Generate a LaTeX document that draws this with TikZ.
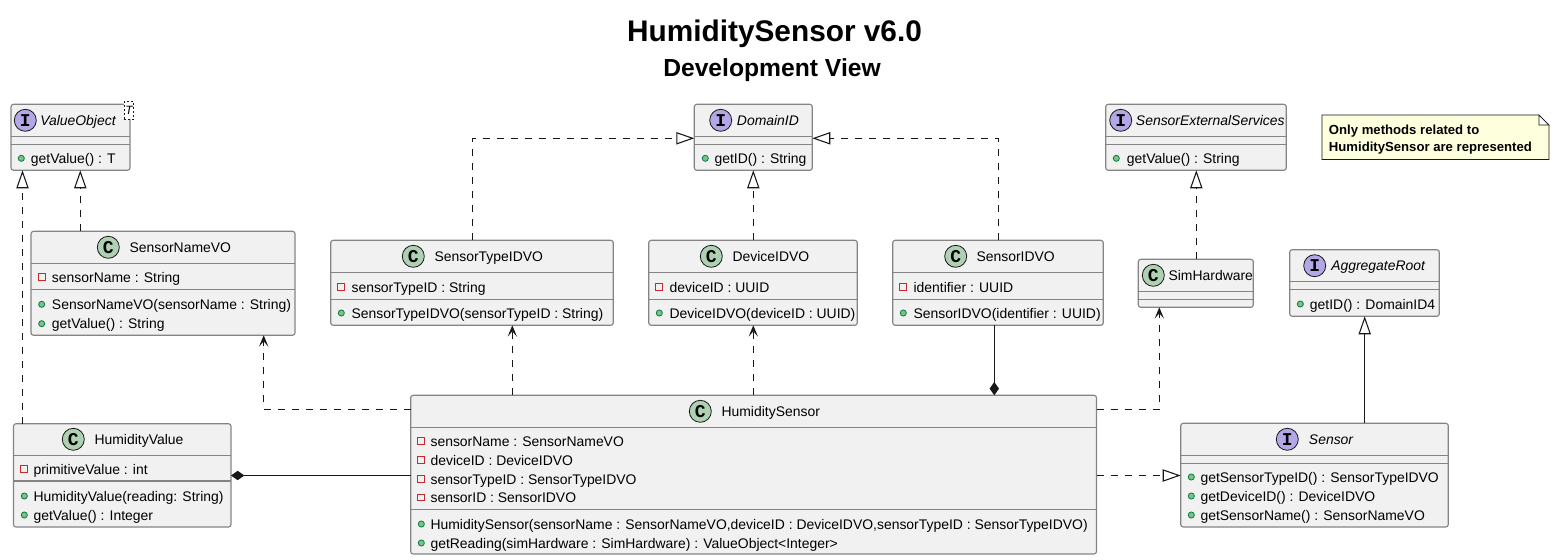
\documentclass[tikz,border=0pt]{standalone}
\usepackage{fontspec}
\setmainfont{Liberation Sans}
\newfontfamily\spotfont{Liberation Mono}
\usetikzlibrary{arrows.meta}
\definecolor{boxfill}{HTML}{F1F1F1}
\definecolor{boxline}{HTML}{848484}
\definecolor{cspot}{HTML}{ADD1B2}
\definecolor{ispot}{HTML}{B4A7E5}
\definecolor{notefill}{HTML}{FEFFDD}
\definecolor{privc}{HTML}{C82930}
\definecolor{pubc}{HTML}{038048}
\definecolor{pubf}{HTML}{84BE84}
\definecolor{ink}{HTML}{181818}
\newcounter{labelno}
\tikzset{
  x=0.75pt,y=-0.75pt,
  classbox/.style={draw=boxline,fill=boxfill,line width=0.85pt,rounded corners=1.9pt,inner sep=0pt,outer sep=0pt},
  sepline/.style={draw=boxline,line width=0.85pt},
  spot/.style={circle,draw=ink,line width=0.6pt,minimum size=16.5pt,inner sep=0pt,font=\spotfont\bfseries\fontsize{13.5}{13.5}\selectfont,text=black},
  title text/.style={anchor=base west,inner sep=0pt,text=black,font=\fontsize{10.45}{12}\selectfont},
  member/.style={anchor=base west,inner sep=0pt,text=black,font=\fontsize{10.45}{12}\selectfont},
  privicon/.style={draw=privc,fill=boxfill,line width=0.75pt,minimum size=5pt,inner sep=0pt},
  pubicon/.style={circle,draw=pubc,fill=pubf,line width=0.6pt,minimum size=4.6pt,inner sep=0pt},
  conn/.style={draw=ink,line width=0.8pt},
  dashline/.style={conn,dash pattern=on 5.25pt off 5.25pt},
  real/.style={dashline,-{Triangle[open,length=13.5pt,width=9.2pt,fill=white]}},
  gen/.style={conn,-{Triangle[open,length=13.5pt,width=9.2pt,fill=white]}},
  dep/.style={dashline,-{Stealth[length=8.5pt,width=7pt,inset=4pt]}},
  comp/.style={conn,-{Diamond[length=10pt,width=7pt,fill=ink]}},
}
% box: name, x1,y1,x2,y2, separator 1, separator 2
\newcommand{\umlbox}[7]{%
  \node[classbox,minimum width={(#4-#2)*0.75pt},minimum height={(#5-#3)*0.75pt}] (#1) at ({(#2+#4)/2},{(#3+#5)/2}) {};
  \draw[sepline] (#1.west |- 0,#6) -- (#1.east |- 0,#6);
  \draw[sepline] (#1.west |- 0,#7) -- (#1.east |- 0,#7);
}
% header: spot letter, fill, spot x, y, text x, text
\newcommand{\header}[6]{%
  \stepcounter{labelno}%
  \node[spot,fill=#2] (s\thelabelno) at (#3,#4) {#1};
  \node[title text] (h\thelabelno) at (#5,#4+5) {#6};
}
\newcommand{\privrow}[4]{%
  \stepcounter{labelno}%
  \node[privicon] (i\thelabelno) at (#1,#3) {};
  \node[member] (m\thelabelno) at (#2,#3+5) {#4};
}
\newcommand{\pubrow}[4]{%
  \stepcounter{labelno}%
  \node[pubicon] (i\thelabelno) at (#1,#3) {};
  \node[member] (m\thelabelno) at (#2,#3+5) {#4};
}
\begin{document}
\begin{tikzpicture}
\path[use as bounding box,fill=white] (0,0) rectangle (1554,560);

\node[anchor=base,inner sep=0pt,font=\bfseries\fontsize{22.35}{26}\selectfont] (title) at (774.5,42) {HumiditySensor v6.0};
\node[anchor=base,inner sep=0pt,font=\bfseries\fontsize{18.5}{22}\selectfont] (subtitle) at (772,76.5) {Development View};

% ValueObject
\umlbox{vo}{11}{104.3}{130}{170.3}{136.3}{144.3}
\header{I}{ispot}{25.3}{120.3}{40}{\textit{ValueObject}}
\pubrow{21.3}{30.7}{158.3}{getValue() : T}
\node[draw=ink,fill=white,line width=0.4pt,dash pattern=on 1.5pt off 1.5pt,minimum width=6.8pt,minimum height=13.8pt,inner sep=0pt,font=\itshape\fontsize{9}{9}\selectfont] (tpl) at (129,110.3) {T};

% DomainID
\umlbox{dom}{694.3}{104.3}{812.3}{170.3}{136.3}{144.3}
\header{I}{ispot}{720.7}{120.3}{736.7}{\textit{DomainID}}
\pubrow{705.3}{714.3}{158.3}{getID() : String}

% SensorExternalServices
\umlbox{ses}{1105.7}{104.3}{1286.3}{170.3}{136.3}{144.3}
\header{I}{ispot}{1120.7}{120.3}{1135.7}{\textit{SensorExternalServices}}
\pubrow{1116.3}{1126.7}{158.3}{getValue() : String}

% Note
\node[inner sep=0pt,minimum width=169.8pt,minimum height=33pt] (note) at (1435.5,137.3) {};
\draw[draw=ink,line width=0.5pt,fill=notefill] (note.south west) -- (note.north west) -- ([xshift=-7.5pt]note.north east) -- ([yshift=-7.5pt]note.north east) -- (note.south east) -- cycle;
\draw[draw=ink,line width=0.5pt,fill=white] ([xshift=-7.5pt]note.north east) -- ([xshift=-7.5pt,yshift=-7.5pt]note.north east) -- ([yshift=-7.5pt]note.north east) -- cycle;
\node[anchor=base west,inner sep=0pt,font=\bfseries\fontsize{9.85}{12}\selectfont] (notea) at (1328.7,134) {Only methods related to};
\node[anchor=base west,inner sep=0pt,font=\bfseries\fontsize{9.85}{12}\selectfont] (noteb) at (1328.7,151.4) {HumiditySensor are represented};

% SensorNameVO
\umlbox{snv}{31}{231.3}{295}{335.3}{263.3}{289.3}
\header{C}{cspot}{108.3}{247.3}{129.3}{SensorNameVO}
\privrow{41.7}{51.7}{277}{sensorName : String}
\pubrow{41.7}{51.7}{304.3}{SensorNameVO(sensorName : String)}
\pubrow{41.7}{51.7}{323.7}{getValue() : String}

% SensorTypeIDVO
\umlbox{stv}{330.7}{240.3}{613.3}{325.3}{272.3}{299.3}
\header{C}{cspot}{413.3}{256.3}{434.3}{SensorTypeIDVO}
\privrow{341.3}{351.3}{287}{sensorTypeID : String}
\pubrow{341.3}{351.3}{313}{SensorTypeIDVO(sensorTypeID : String)}

% DeviceIDVO
\umlbox{dev}{648.7}{240.3}{857.3}{325.3}{272.3}{299.3}
\header{C}{cspot}{711.3}{256.3}{732.3}{DeviceIDVO}
\privrow{659.3}{669.3}{287}{deviceID : UUID}
\pubrow{659.3}{669.3}{313}{DeviceIDVO(deviceID : UUID)}

% SensorIDVO
\umlbox{sid}{892.7}{240.3}{1103.3}{325.3}{272.3}{299.3}
\header{C}{cspot}{955.7}{256.3}{976.3}{SensorIDVO}
\privrow{903.3}{913.3}{287}{identifier : UUID}
\pubrow{903.3}{913.3}{313}{SensorIDVO(identifier : UUID)}

% SimHardware
\umlbox{sim}{1138.3}{259.3}{1253.3}{307.3}{291.3}{299.3}
\header{C}{cspot}{1153.3}{275.3}{1168.3}{SimHardware}

% AggregateRoot
\umlbox{agg}{1289.7}{249.7}{1439.3}{316.3}{281.3}{289.3}
\header{I}{ispot}{1314.7}{265.7}{1331}{\textit{AggregateRoot}}
\pubrow{1300.3}{1309.7}{304}{getID() : DomainID4}

% HumidityValue
\umlbox{hv}{13.5}{423.7}{231}{527}{455.3}{481}
\header{C}{cspot}{73.3}{439.3}{94.3}{HumidityValue}
\privrow{24.3}{33.3}{469}{primitiveValue : int}
\pubrow{24.3}{33.3}{496}{HumidityValue(reading: String)}
\pubrow{24.3}{33.3}{515}{getValue() : Integer}

% HumiditySensor
\umlbox{hs}{410.7}{395.3}{1096.5}{554}{427.3}{509.3}
\header{C}{cspot}{700.3}{411.3}{721.3}{HumiditySensor}
\privrow{421.3}{430.3}{441}{sensorName : SensorNameVO}
\privrow{421.3}{430.3}{460}{deviceID : DeviceIDVO}
\privrow{421.3}{430.3}{479}{sensorTypeID : SensorTypeIDVO}
\privrow{421.3}{430.3}{497.5}{sensorID : SensorIDVO}
\pubrow{421.3}{430.3}{524}{HumiditySensor(sensorName : SensorNameVO,deviceID : DeviceIDVO,sensorTypeID : SensorTypeIDVO)}
\pubrow{421.3}{430.3}{543}{getReading(simHardware : SimHardware) : ValueObject<Integer>}

% Sensor
\umlbox{sen}{1180.7}{423.3}{1448.3}{527}{455.3}{463.3}
\header{I}{ispot}{1287.3}{439.3}{1308.7}{\textit{Sensor}}
\pubrow{1191.3}{1200.3}{477}{getSensorTypeID() : SensorTypeIDVO}
\pubrow{1191.3}{1200.3}{496}{getDeviceID() : DeviceIDVO}
\pubrow{1191.3}{1200.3}{515}{getSensorName() : SensorNameVO}

% Routing guides
\coordinate (xa) at (22.5,0);
\coordinate (xb) at (80.3,0);
\coordinate (xc) at (263.7,0);
\coordinate (xd) at (472.7,0);
\coordinate (xe) at (512.3,0);
\coordinate (xf) at (753.3,0);
\coordinate (xg) at (998.3,0);
\coordinate (xh) at (994.3,0);
\coordinate (xi) at (1159.3,0);
\coordinate (xj) at (1196.3,0);
\coordinate (xk) at (1364.7,0);
\coordinate (yd) at (0,138.3);
\coordinate (yh) at (0,409.3);
\coordinate (yv) at (0,475.5);

% Connectors
\draw[real] (hv.north -| xa) -- (vo.south -| xa);
\draw[real] (snv.north -| xb) -- (vo.south -| xb);
\draw[real] (stv.north -| xd) |- (dom.west |- yd);
\draw[real] (dev.north -| xf) -- (dom.south -| xf);
\draw[real] (sid.north -| xg) |- (dom.east |- yd);
\draw[real] (sim.north -| xj) -- (ses.south -| xj);
\draw[gen] (sen.north -| xk) -- (agg.south -| xk);
\draw[dep] (hs.west |- yh) -| (snv.south -| xc);
\draw[dep] (hs.north -| xe) -- (stv.south -| xe);
\draw[dep] (hs.north -| xf) -- (dev.south -| xf);
\draw[dep] (hs.east |- yh) -| (sim.south -| xi);
\draw[comp] (sid.south -| xh) -- (hs.north -| xh);
\draw[comp] (hs.west |- yv) -- (hv.east |- yv);
\draw[real] (hs.east |- yv) -- (sen.west |- yv);
\end{tikzpicture}
\end{document}
